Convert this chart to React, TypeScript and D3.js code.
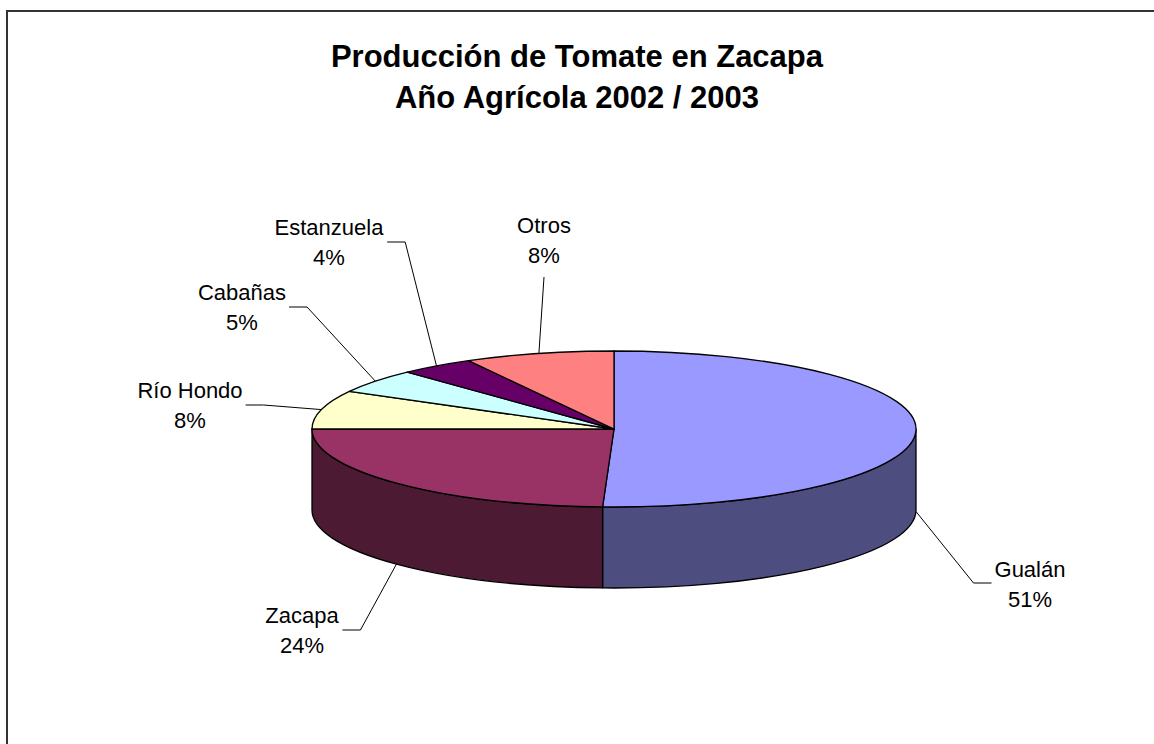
import React, { useEffect, useRef } from "react";
import * as d3 from "d3";

// data (shares in percent)
const regions = ["Gualán", "Zacapa", "Río Hondo", "Cabañas", "Estanzuela", "Otros"];
const shares = [50.6, 24.4, 8.0, 5.0, 4.0, 8.0];
const pctLabels = ["51%", "24%", "8%", "5%", "4%", "8%"];
const titleLines = ["Producción de Tomate en Zacapa", "Año Agrícola 2002 / 2003"];

// palette
const topColors = ["#9999FF", "#993366", "#FFFFCC", "#CCFFFF", "#660066", "#FF8080"];
const sideColors = ["#4D4D80", "#4D1A33", "#80806A", "#6A8080", "#330033", "#804040"];

// where the label blocks sit (center x, first baseline)
const labelPlaces = [
  { x: 1030, y: 577 },
  { x: 302, y: 623 },
  { x: 190, y: 398 },
  { x: 242, y: 300 },
  { x: 329, y: 235 },
  { x: 544, y: 233 },
];

const W = 1154;
const H = 744;
const FONT = "Arial, 'Liberation Sans', sans-serif";

function App() {
  const ref = useRef<SVGSVGElement>(null);

  useEffect(() => {
    document.body.style.margin = "0";
    const svg = d3.select(ref.current);
    svg.selectAll("*").remove();

    const cx = 614, cy = 429, rx = 302, ry = 78, depth = 81;
    const pt = (a: number, dy = 0): [number, number] => [
      cx + rx * Math.sin(a),
      cy - ry * Math.cos(a) + dy,
    ];

    // chart frame
    svg.append("rect")
      .attr("x", 7).attr("y", 11)
      .attr("width", 1170).attr("height", 780)
      .attr("fill", "#fff")
      .attr("stroke", "#333")
      .attr("stroke-width", 2);

    // title
    const title = svg.append("text")
      .attr("text-anchor", "middle")
      .attr("font-family", FONT)
      .attr("font-weight", "bold")
      .attr("font-size", 31);
    titleLines.forEach((t, i) => {
      title.append("tspan").attr("x", 577).attr("y", 67 + i * 41).text(t);
    });

    const arcs = d3.pie<number>().sort(null).value(d => d)(shares);

    const g = svg.append("g");

    // front walls
    arcs.forEach((a, i) => {
      const s = Math.max(a.startAngle, Math.PI / 2);
      const e = Math.min(a.endAngle, (3 * Math.PI) / 2);
      if (e <= s) return;
      const p1 = pt(s), p2 = pt(e), p3 = pt(e, depth), p4 = pt(s, depth);
      const path = `M${p1[0]},${p1[1]} A${rx},${ry} 0 0 1 ${p2[0]},${p2[1]} L${p3[0]},${p3[1]} A${rx},${ry} 0 0 0 ${p4[0]},${p4[1]} Z`;
      g.append("path")
        .attr("d", path)
        .attr("fill", sideColors[i])
        .attr("stroke", "#000")
        .attr("stroke-width", 1.3)
        .attr("stroke-linejoin", "round");
    });

    // top faces
    arcs.forEach((a, i) => {
      const p1 = pt(a.startAngle), p2 = pt(a.endAngle);
      const large = a.endAngle - a.startAngle > Math.PI ? 1 : 0;
      const path = `M${cx},${cy} L${p1[0]},${p1[1]} A${rx},${ry} 0 ${large} 1 ${p2[0]},${p2[1]} Z`;
      g.append("path")
        .attr("d", path)
        .attr("fill", topColors[i])
        .attr("stroke", "#000")
        .attr("stroke-width", 1.3)
        .attr("stroke-linejoin", "round");
    });

    // labels + leader lines
    arcs.forEach((a, i) => {
      const place = labelPlaces[i];
      const txt = svg.append("text")
        .attr("text-anchor", "middle")
        .attr("font-family", FONT)
        .attr("font-size", 22)
        .attr("fill", "#000");
      txt.append("tspan").attr("x", place.x).attr("y", place.y).text(regions[i]);
      txt.append("tspan").attr("x", place.x).attr("y", place.y + 30).text(pctLabels[i]);
      const box = (txt.node() as SVGTextElement).getBBox();

      const mid = (a.startAngle + a.endAngle) / 2;
      const front = Math.cos(mid) < 0;
      const anchor = pt(mid, front ? depth : 0);

      let pts: [number, number][];
      if (anchor[0] >= box.x && anchor[0] <= box.x + box.width) {
        pts = [[place.x, place.y + 44], anchor];
      } else if (anchor[0] > box.x + box.width) {
        const x0 = box.x + box.width + 3;
        const y0 = place.y + 7;
        pts = [[x0, y0], [x0 + 18, y0], anchor];
      } else {
        const x0 = box.x - 3;
        const y0 = place.y + 6;
        pts = [[x0, y0], [x0 - 18, y0], anchor];
      }
      svg.append("path")
        .attr("d", d3.line()(pts))
        .attr("fill", "none")
        .attr("stroke", "#000")
        .attr("stroke-width", 1);
    });
  }, []);

  return (
    <svg
      ref={ref}
      width={W}
      height={H}
      style={{ position: "absolute", left: 0, top: 0, display: "block" }}
    />
  );
}

export default App;
